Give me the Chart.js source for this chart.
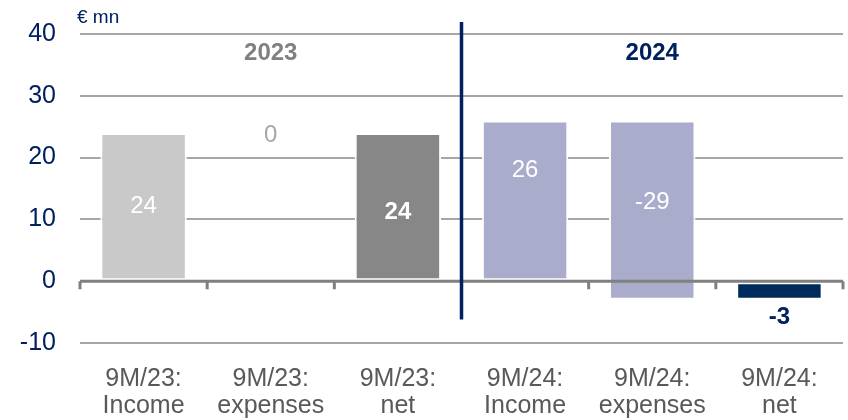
<!DOCTYPE html>
<html>
<head>
<meta charset="utf-8">
<script src="https://cdn.jsdelivr.net/npm/chart.js@4.4.1/dist/chart.umd.min.js"></script>
<style>
    html, body { margin: 0; padding: 0; background: #ffffff; }
    #wrap { width: 848px; height: 420px; }
</style>
</head>
<body>
<div id="wrap"><canvas id="chart" width="848" height="420"></canvas></div>
<script>
(function () {
    'use strict';

    const categories = [
        ['9M/23:', 'Income'],
        ['9M/23:', 'expenses'],
        ['9M/23:', 'net'],
        ['9M/24:', 'Income'],
        ['9M/24:', 'expenses'],
        ['9M/24:', 'net']
    ];
    const years = ['2023', '2024'];
    const income = [24, 26];
    const expenses = [0, -29];
    const net = [24, -3];
    const yTicks = [-10, 0, 10, 20, 30, 40];
    const unitLabel = '€ mn';

    const NAVY = '#002060';
    const GREY_TEXT = '#595959';
    const FONT = '"Liberation Sans", Arial, sans-serif';

    // waterfall: income from 0, expenses hanging from income, net from 0
    const ranges = [];
    const labels = [];
    for (let i = 0; i < years.length; i++) {
        ranges.push([0, income[i]]);
        ranges.push([income[i] + expenses[i], income[i]]);
        ranges.push([0, net[i]]);
        labels.push(income[i], expenses[i], net[i]);
    }

    const barColors = ['#c9c9c9', '#c9c9c9', '#878787', '#a9acca', '#a9acca', '#002a5c'];

    const labelStyle = [
        { color: '#ffffff', bold: false, where: 'mid', dy: 0 },
        { color: '#a6a6a6', bold: false, where: 'top', dy: 2 },
        { color: '#ffffff', bold: true, where: 'mid', dy: 6 },
        { color: '#ffffff', bold: false, where: 'top', dy: 50 },
        { color: '#ffffff', bold: false, where: 'mid', dy: -8 },
        { color: NAVY, bold: true, where: 'below', dy: 18 }
    ];

    const decorPlugin = {
        id: 'decor',
        afterDatasetsDraw: function (chart) {
            const ctx = chart.ctx;
            const area = chart.chartArea;
            const x = chart.scales.x;
            const y = chart.scales.y;
            const y0 = y.getPixelForValue(0);
            const step = x.getPixelForValue(1) - x.getPixelForValue(0);

            ctx.save();

            // zero axis with boundary ticks
            ctx.strokeStyle = '#808080';
            ctx.lineWidth = 3;
            ctx.beginPath();
            ctx.moveTo(area.left, y0);
            ctx.lineTo(area.right, y0);
            for (let i = 0; i <= categories.length; i++) {
                const bx = x.getPixelForValue(0) - step / 2 + i * step;
                ctx.moveTo(bx, y0);
                ctx.lineTo(bx, y0 + 8);
            }
            ctx.stroke();

            // divider between years
            const dx = (x.getPixelForValue(2) + x.getPixelForValue(3)) / 2;
            ctx.strokeStyle = NAVY;
            ctx.lineWidth = 3.5;
            ctx.beginPath();
            ctx.moveTo(dx, area.top - 12);
            ctx.lineTo(dx, y.getPixelForValue(-6.2));
            ctx.stroke();

            // year headers
            ctx.textAlign = 'center';
            ctx.textBaseline = 'middle';
            ctx.font = 'bold 24px ' + FONT;
            ctx.fillStyle = '#808080';
            ctx.fillText(years[0], x.getPixelForValue(1), y.getPixelForValue(36.9));
            ctx.fillStyle = NAVY;
            ctx.fillText(years[1], x.getPixelForValue(4), y.getPixelForValue(36.9));

            // unit
            ctx.textAlign = 'left';
            ctx.font = '19px ' + FONT;
            ctx.fillText(unitLabel, 77, 18);

            // value labels
            const meta = chart.getDatasetMeta(0);
            meta.data.forEach(function (bar, i) {
                const st = labelStyle[i];
                const top = Math.min(bar.y, bar.base);
                const bottom = Math.max(bar.y, bar.base);
                let ly;
                if (st.where === 'mid') {
                    ly = (top + bottom) / 2 + st.dy;
                } else if (st.where === 'top') {
                    ly = top + st.dy;
                } else {
                    ly = bottom + st.dy;
                }
                ctx.textAlign = 'center';
                ctx.fillStyle = st.color;
                ctx.font = (st.bold ? 'bold ' : '') + '24px ' + FONT;
                ctx.fillText(String(labels[i]), bar.x, ly);
            });

            ctx.restore();
        }
    };

    new Chart(document.getElementById('chart'), {
        type: 'bar',
        data: {
            labels: categories,
            datasets: [{
                data: ranges,
                backgroundColor: barColors,
                borderColor: '#ffffff',
                borderWidth: 2,
                borderSkipped: false,
                barPercentage: 0.68,
                categoryPercentage: 1
            }]
        },
        options: {
            responsive: false,
            animation: false,
            layout: { padding: { top: 34, right: 5, left: 0, bottom: 0 } },
            plugins: {
                legend: { display: false },
                tooltip: { enabled: false }
            },
            scales: {
                x: {
                    grid: { display: false },
                    border: { display: false },
                    ticks: {
                        color: GREY_TEXT,
                        font: { family: FONT, size: 25, lineHeight: 1.1 },
                        padding: 14,
                        maxRotation: 0,
                        autoSkip: false
                    },
                    afterFit: function (scale) { scale.height = 77; }
                },
                y: {
                    min: yTicks[0],
                    max: yTicks[yTicks.length - 1],
                    afterBuildTicks: function (scale) {
                        scale.ticks = yTicks.map(function (v) { return { value: v }; });
                    },
                    grid: { color: '#a6a6a6', lineWidth: 2, drawTicks: false },
                    border: { display: false },
                    ticks: {
                        color: NAVY,
                        font: { family: FONT, size: 25 },
                        padding: 24
                    },
                    afterFit: function (scale) {
                        scale.width = 80;
                        scale.paddingTop = 0;
                        scale.paddingBottom = 0;
                    }
                }
            }
        },
        plugins: [decorPlugin]
    });
})();
</script>
</body>
</html>
